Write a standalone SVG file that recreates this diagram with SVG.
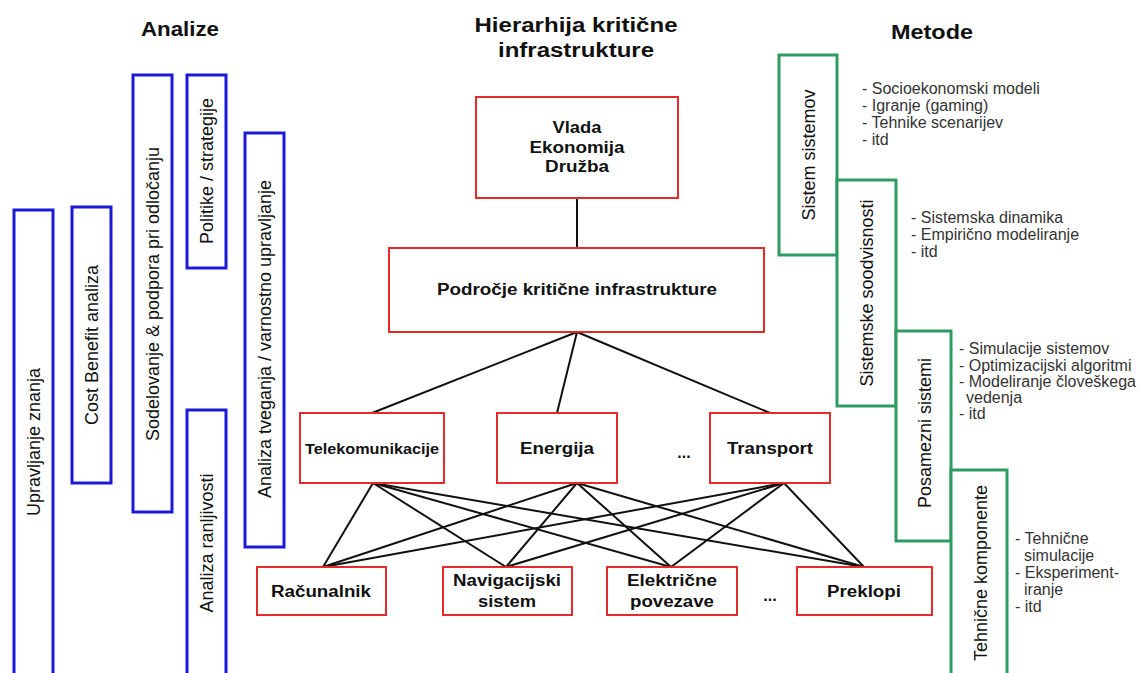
<svg xmlns="http://www.w3.org/2000/svg" width="1142" height="673" viewBox="0 0 1142 673">
<style>
.bl{fill:#fff;stroke:#1a1ad6;stroke-width:3}
.rd{fill:#fff;stroke:#e42a2a;stroke-width:2}
.gr{fill:#fff;stroke:#2f9a62;stroke-width:3}
.t{font-family:"Liberation Sans",Arial,sans-serif;fill:#111;text-anchor:middle;dominant-baseline:central}
.v{font-size:18px}
.h{font-size:20px;font-weight:bold}
.b{font-size:16px;font-weight:bold}
.l{font-family:"Liberation Sans",Arial,sans-serif;fill:#333;font-size:16px;dominant-baseline:central}
.c{stroke:#111;stroke-width:2;fill:none}
</style>
<rect width="1142" height="673" fill="#fff"/>
<text class="t h" x="180" y="29" textLength="78" lengthAdjust="spacingAndGlyphs">Analize</text>
<text class="t h" x="576" y="25" textLength="203" lengthAdjust="spacingAndGlyphs">Hierarhija kritične</text>
<text class="t h" x="576" y="50" textLength="156" lengthAdjust="spacingAndGlyphs">infrastrukture</text>
<text class="t h" x="932" y="32" textLength="82" lengthAdjust="spacingAndGlyphs">Metode</text>

<g id="connectors">
<line class="c" x1="577" y1="198" x2="577" y2="248"/>
<line class="c" x1="577" y1="332" x2="372" y2="413"/>
<line class="c" x1="577" y1="332" x2="557" y2="413"/>
<line class="c" x1="577" y1="332" x2="770" y2="413"/>
<line class="c" x1="373" y1="483" x2="323" y2="567"/>
<line class="c" x1="373" y1="483" x2="506" y2="567"/>
<line class="c" x1="373" y1="483" x2="671" y2="567"/>
<line class="c" x1="373" y1="483" x2="864" y2="567"/>
<line class="c" x1="577" y1="483" x2="323" y2="567"/>
<line class="c" x1="577" y1="483" x2="506" y2="567"/>
<line class="c" x1="577" y1="483" x2="671" y2="567"/>
<line class="c" x1="577" y1="483" x2="864" y2="567"/>
<line class="c" x1="784" y1="483" x2="323" y2="567"/>
<line class="c" x1="784" y1="483" x2="506" y2="567"/>
<line class="c" x1="784" y1="483" x2="671" y2="567"/>
<line class="c" x1="784" y1="483" x2="864" y2="567"/>
</g>

<g id="upravljanje"><rect class="bl" x="14" y="210" width="39" height="470"/><text class="t v" transform="translate(34,442) rotate(-90)">Upravljanje znanja</text></g>
<g id="costbenefit"><rect class="bl" x="72" y="207" width="39" height="276"/><text class="t v" transform="translate(92,345) rotate(-90)">Cost Benefit analiza</text></g>
<g id="sodelovanje"><rect class="bl" x="133" y="75" width="39" height="437"/><text class="t v" transform="translate(153,294) rotate(-90)">Sodelovanje &amp; podpora pri odločanju</text></g>
<g id="politike"><rect class="bl" x="187" y="75" width="39" height="193"/><text class="t v" transform="translate(207,171) rotate(-90)">Politike / strategije</text></g>
<g id="ranljivost"><rect class="bl" x="187" y="410" width="39" height="270"/><text class="t v" transform="translate(207,543) rotate(-90)">Analiza ranljivosti</text></g>
<g id="tveganje"><rect class="bl" x="245" y="133" width="39" height="414"/><text class="t v" transform="translate(265,339) rotate(-90)">Analiza tveganja / varnostno upravljanje</text></g>

<g id="vlada"><rect class="rd" x="476" y="97" width="202" height="101"/><text class="t b" x="577" y="127" textLength="49" lengthAdjust="spacingAndGlyphs">Vlada</text><text class="t b" x="577" y="147" textLength="95" lengthAdjust="spacingAndGlyphs">Ekonomija</text><text class="t b" x="577" y="166" textLength="64" lengthAdjust="spacingAndGlyphs">Družba</text></g>
<g id="podrocje"><rect class="rd" x="389" y="248" width="375" height="84"/><text class="t b" x="577" y="289" textLength="280" lengthAdjust="spacingAndGlyphs">Področje kritične infrastrukture</text></g>
<g id="telekom"><rect class="rd" x="300" y="413" width="144" height="70"/><text class="t b" style="font-size:15px" x="372" y="448" textLength="134" lengthAdjust="spacingAndGlyphs">Telekomunikacije</text></g>
<g id="energija"><rect class="rd" x="497" y="413" width="120" height="70"/><text class="t b" x="557" y="448" textLength="74" lengthAdjust="spacingAndGlyphs">Energija</text></g>
<text class="t b" x="684" y="452">...</text>
<g id="transport"><rect class="rd" x="710" y="413" width="120" height="70"/><text class="t b" x="770" y="448" textLength="86" lengthAdjust="spacingAndGlyphs">Transport</text></g>

<g id="racunalnik"><rect class="rd" x="257" y="567" width="129" height="48"/><text class="t b" x="321" y="591" textLength="100" lengthAdjust="spacingAndGlyphs">Računalnik</text></g>
<g id="navigacija"><rect class="rd" x="443" y="567" width="129" height="48"/><text class="t b" x="507" y="580" textLength="108" lengthAdjust="spacingAndGlyphs">Navigacijski</text><text class="t b" x="507" y="601" textLength="58" lengthAdjust="spacingAndGlyphs">sistem</text></g>
<g id="elektricne"><rect class="rd" x="607" y="567" width="130" height="48"/><text class="t b" x="672" y="580" textLength="90" lengthAdjust="spacingAndGlyphs">Električne</text><text class="t b" x="672" y="601" textLength="84" lengthAdjust="spacingAndGlyphs">povezave</text></g>
<text class="t b" x="770" y="595">...</text>
<g id="preklopi"><rect class="rd" x="797" y="567" width="135" height="48"/><text class="t b" x="864" y="591" textLength="74" lengthAdjust="spacingAndGlyphs">Preklopi</text></g>

<g id="sistemsistemov"><rect class="gr" x="779" y="55" width="58" height="200"/><text class="t v" transform="translate(809,155) rotate(-90)">Sistem sistemov</text></g>
<g id="soodvisnosti"><rect class="gr" x="837" y="180" width="59" height="226"/><text class="t v" transform="translate(867,293) rotate(-90)">Sistemske soodvisnosti</text></g>
<g id="posamezni"><rect class="gr" x="896" y="331" width="55" height="210"/><text class="t v" transform="translate(925,433) rotate(-90)">Posamezni sistemi</text></g>
<g id="tehnicne"><rect class="gr" x="951" y="470" width="56" height="210"/><text class="t v" transform="translate(981,573) rotate(-90)">Tehnične komponente</text></g>

<g id="metode-text">
<text class="l" x="862" y="88">- Socioekonomski modeli</text>
<text class="l" x="862" y="105">- Igranje (gaming)</text>
<text class="l" x="862" y="122">- Tehnike scenarijev</text>
<text class="l" x="862" y="139">- itd</text>
<text class="l" x="911" y="217">- Sistemska dinamika</text>
<text class="l" x="911" y="234">- Empirično modeliranje</text>
<text class="l" x="911" y="251">- itd</text>
<text class="l" x="959" y="348">- Simulacije sistemov</text>
<text class="l" x="959" y="365">- Optimizacijski algoritmi</text>
<text class="l" x="959" y="381">- Modeliranje človeškega</text>
<text class="l" x="966" y="397">vedenja</text>
<text class="l" x="959" y="413">- itd</text>
<text class="l" x="1015" y="538">- Tehnične</text>
<text class="l" x="1024" y="555">simulacije</text>
<text class="l" x="1015" y="572">- Eksperiment-</text>
<text class="l" x="1024" y="589">iranje</text>
<text class="l" x="1015" y="606">- itd</text>
</g>
</svg>
